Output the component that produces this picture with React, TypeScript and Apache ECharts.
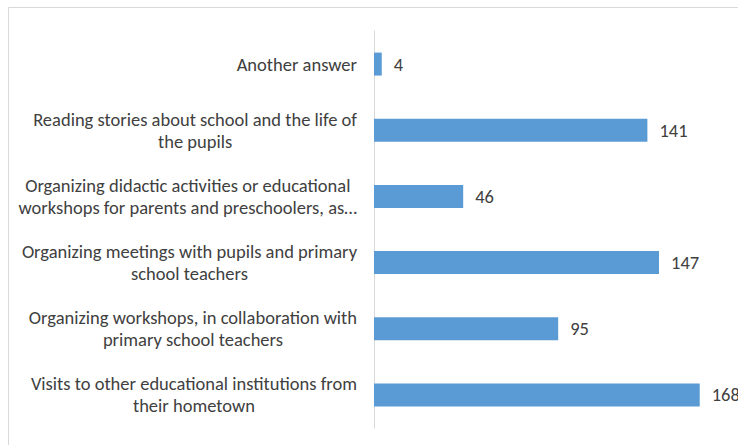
import React, { useEffect, useRef } from "react";
import * as echarts from "echarts";

const categories: string[] = [
  "Another answer",
  "Reading stories about school and the life of\nthe pupils",
  "Organizing didactic activities or educational\nworkshops for parents and preschoolers, as…",
  "Organizing meetings with pupils and primary\nschool teachers",
  "Organizing workshops, in collaboration with\nprimary school teachers",
  "Visits to other educational institutions from\ntheir hometown",
];
const values: number[] = [4, 141, 46, 147, 95, 168];

const FONT = "Carlito, Lato, 'Open Sans', sans-serif";
const TEXT = "#404040";
const FS = 18.5;

export default function App() {
  const ref = useRef<HTMLDivElement>(null);
  useEffect(() => {
    if (!ref.current) return;
    const chart = echarts.init(ref.current, null, { renderer: "svg" });
    chart.setOption({
      animation: false,
      backgroundColor: "#ffffff",
      graphic: [
        {
          type: "rect",
          shape: { x: 8.5, y: 7.5, width: 900, height: 600 },
          style: { fill: "none", stroke: "#d9d9d9", lineWidth: 1 },
          silent: true,
        },
      ],
      grid: { left: 374, top: 31, bottom: 17, right: 15, containLabel: false },
      xAxis: {
        type: "value",
        min: 0,
        max: 180,
        show: false,
        splitLine: { show: false },
      },
      yAxis: {
        type: "category",
        inverse: true,
        data: categories,
        axisLine: { show: true, lineStyle: { color: "#d9d9d9", width: 1 } },
        axisTick: { show: false },
        axisLabel: {
          margin: 17,
          color: TEXT,
          fontSize: FS,
          fontFamily: FONT,
          lineHeight: 22,
          formatter: (v: string) =>
            v
              .split("\n")
              .map((l) => `{c|${l}}`)
              .join("\n"),
          rich: {
            c: {
              align: "center",
              fontSize: FS,
              lineHeight: 22,
              color: TEXT,
              fontFamily: FONT,
            },
          },
        },
      },
      series: [
        {
          type: "bar",
          data: values,
          barWidth: 23,
          itemStyle: { color: "#5b9bd5" },
          label: {
            show: true,
            position: "right",
            distance: 12,
            fontSize: FS,
            color: TEXT,
            fontFamily: FONT,
          },
        },
      ],
    });
    return () => chart.dispose();
  }, []);
  return (
    <div
      ref={ref}
      style={{ position: "absolute", left: 0, top: 0, width: 738, height: 445 }}
    />
  );
}
